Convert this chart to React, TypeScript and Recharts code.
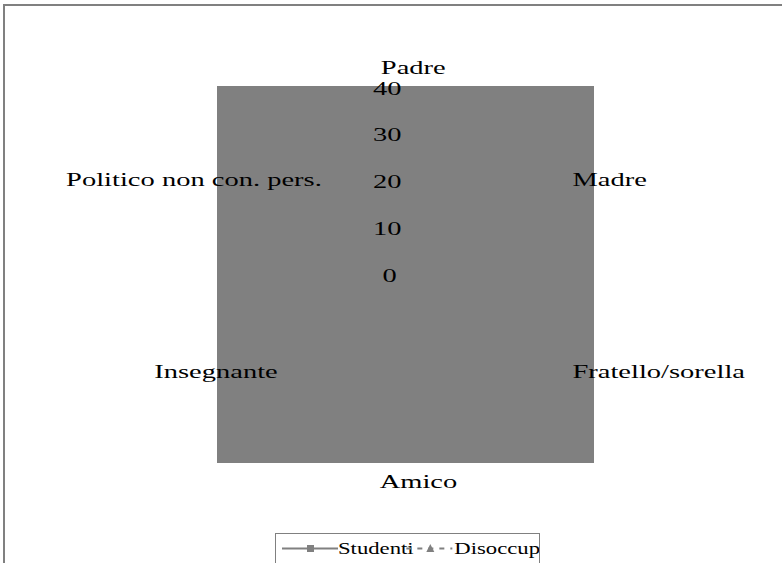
import { Legend, PolarAngleAxis, PolarGrid, PolarRadiusAxis, Radar, RadarChart } from "recharts";

const categories = ["Padre", "Madre", "Fratello/sorella", "Amico", "Insegnante", "Politico non con. pers."];
const studenti = [30, 34, 16, 26, 12, 3];
const disoccupati = [28, 31, 14, 22, 8, 4];
const radiusTicks = [0, 10, 20, 30, 40];
const seriesNames = ["Studenti", "Disoccupati"];

const data = categories.map((name, i) => ({
  name,
  studenti: studenti[i],
  disoccupati: disoccupati[i],
}));

const W = 782;
const H = 563;
const CX = 405.5;
const CY = 274.5;
const R = 187;
const FONT = "Liberation Serif, Times New Roman, DejaVu Serif, serif";
const STRETCH = 1.5;
const GREY = "#808080";

let ctx: CanvasRenderingContext2D | null = null;
function textWidth(s: string, size: number) {
  if (!ctx) ctx = document.createElement("canvas").getContext("2d");
  if (!ctx) return s.length * size * 0.5;
  ctx.font = `${size}px "Liberation Serif", serif`;
  return ctx.measureText(s).width;
}

// Excel-style text: placed as if unstretched, then widened from its start
function WideText({ x, y, text, size, sx = STRETCH }: { x: number; y: number; text: string; size: number; sx?: number }) {
  return (
    <text
      transform={`translate(${x},${y}) scale(${sx},1)`}
      x={0}
      y={0}
      style={{ fontFamily: FONT, fontSize: size }}
      fill="#000"
      textAnchor="start"
    >
      {text}
    </text>
  );
}

function AngleTick(props: any) {
  const label = String(props.payload.value);
  const a = (-props.payload.coordinate * Math.PI) / 180;
  const vx = CX + Math.cos(a) * R;
  const vy = CY + Math.sin(a) * R;
  const w = textWidth(label, 19);
  let sx = vx - w / 2;
  let by = vy;
  if (vx > CX + 1) {
    sx = vx + 5;
    by = vy + (vy < CY ? 5 : 9.5);
  } else if (vx < CX - 1) {
    sx = vx - 7 - w;
    by = vy + (vy < CY ? 5 : 9.5);
  } else if (vy < CY) {
    sx -= 3;
    by = vy - 14;
  } else {
    by = vy + 26;
  }
  return <WideText x={sx} y={by} text={label} size={19} />;
}

function RadiusTick(props: any) {
  const label = String(props.payload.value);
  const y = CY - props.payload.coordinate;
  const w = textWidth(label, 19);
  return <WideText x={CX - 13.5 - w} y={y + 7} text={label} size={19} />;
}

function LegendBox() {
  const t1 = textWidth(seriesNames[0], 16);
  const x2 = 63 + t1 + 14;
  return (
    <div style={{ width: 265, height: 40, border: `1px solid ${GREY}`, borderBottom: "none", overflow: "hidden", background: "#fff", boxSizing: "border-box" }}>
      <svg width={265} height={40}>
        <line x1={6} x2={62} y1={14.5} y2={14.5} stroke={GREY} strokeWidth={2} />
        <rect x={31} y={11} width={7} height={7} fill={GREY} />
        <WideText x={62} y={20} text={seriesNames[0]} size={16} sx={1.42} />
        <line x1={x2} x2={x2 + 46} y1={14.5} y2={14.5} stroke={GREY} strokeWidth={2} strokeDasharray="5,6" />
        <polygon points={`${x2 + 24},10 ${x2 + 28},18 ${x2 + 20},18`} fill={GREY} />
        <WideText x={x2 + 48} y={20} text={seriesNames[1]} size={16} sx={1.42} />
      </svg>
    </div>
  );
}

export default function App() {
  return (
    <div style={{ position: "absolute", left: 0, top: 0, width: W, height: H, overflow: "hidden", background: "#fff" }}>
      <div style={{ position: "absolute", left: 3, top: 4, width: W, height: H, borderLeft: `2px solid ${GREY}`, borderTop: `2px solid ${GREY}` }} />
      <div style={{ position: "absolute", left: CX - 188.5, top: CY - 188.5, width: 377, height: 377, background: GREY }} />
      <div style={{ position: "absolute", left: 0, top: 0 }}>
        <RadarChart width={W} height={H} data={data} cx={CX} cy={CY} outerRadius={R} margin={{ top: 0, right: 0, bottom: 0, left: 0 }}>
          <PolarGrid stroke={GREY} />
          <PolarAngleAxis dataKey="name" tick={AngleTick} tickLine={false} axisLine={false} />
          <PolarRadiusAxis angle={90} domain={[0, 40]} ticks={radiusTicks} tick={RadiusTick} axisLine={false} tickLine={false} />
          <Radar name={seriesNames[0]} dataKey="studenti" stroke={GREY} strokeWidth={2} fill="none" dot={false} isAnimationActive={false} />
          <Radar name={seriesNames[1]} dataKey="disoccupati" stroke={GREY} strokeWidth={2} strokeDasharray="5 6" fill="none" dot={false} isAnimationActive={false} />
          <Legend content={LegendBox} wrapperStyle={{ position: "absolute", left: 275, top: 533, width: 265, height: 40 }} />
        </RadarChart>
      </div>
    </div>
  );
}
